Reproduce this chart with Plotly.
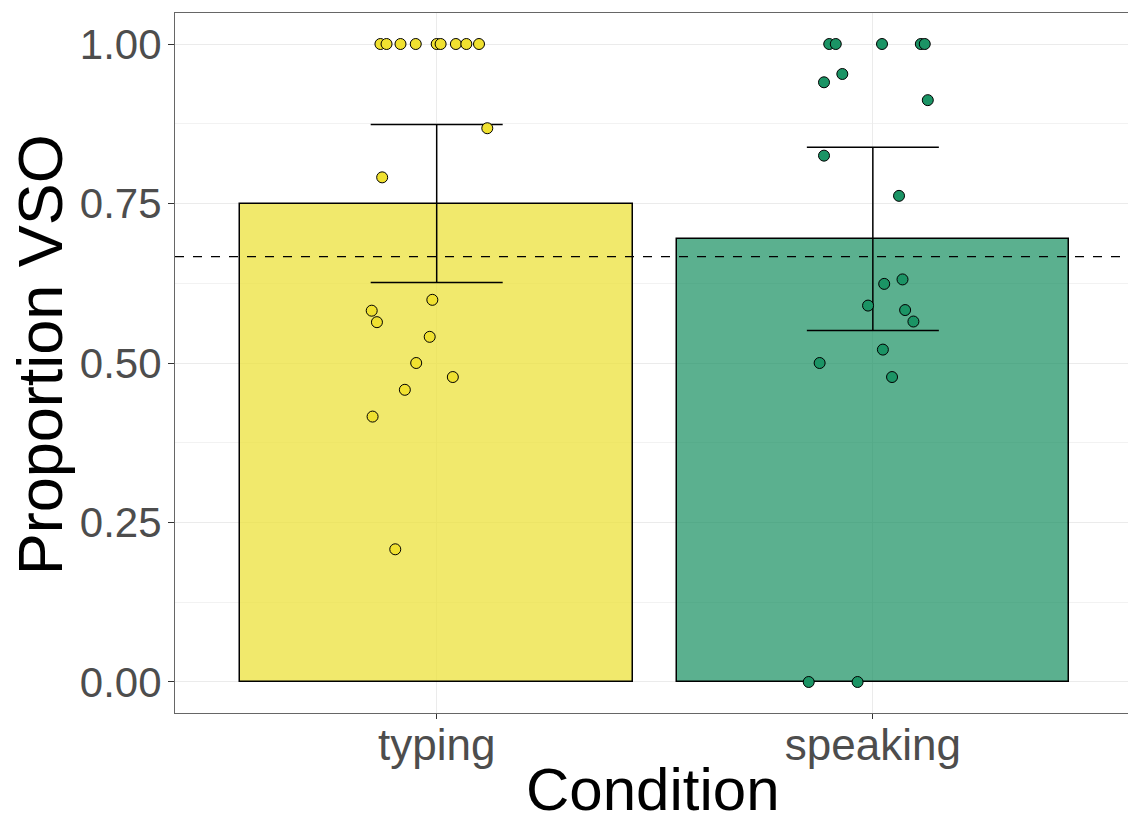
import plotly.graph_objects as go

categories = ["typing", "speaking"]
cat_pos = [1, 2]
means = [0.750, 0.694]
ci_low = [0.626, 0.551]
ci_high = [0.874, 0.838]
chance_level = 2 / 3

typing_vals = [1, 1, 1, 1, 1, 1, 1, 1, 1,
               0.868, 0.791, 0.599, 0.582, 0.564, 0.541, 0.500, 0.478, 0.458, 0.416, 0.208]
typing_jitter = [-0.129, -0.115, -0.083, -0.048, 0.0, 0.009, 0.044, 0.068, 0.097,
                 0.116, -0.125, -0.010, -0.149, -0.137, -0.016, -0.047, 0.037, -0.073, -0.147, -0.095]
speaking_vals = [1, 1, 1, 1, 1,
                 0.953, 0.940, 0.912, 0.825, 0.762,
                 0.624, 0.631, 0.590, 0.583, 0.565, 0.521, 0.500, 0.478, 0.0, 0.0]
speaking_jitter = [-0.100, -0.085, 0.021, 0.110, 0.119,
                   -0.070, -0.112, 0.126, -0.112, 0.060,
                   0.026, 0.068, -0.011, 0.074, 0.093, 0.023, -0.122, 0.044, -0.147, -0.035]

bar_fill = ["rgba(236,224,51,0.72)", "rgba(21,142,95,0.70)"]
point_fill = ["#F0E130", "#1B9465"]

fig = go.Figure()
fig.add_trace(go.Bar(
    x=cat_pos, y=means, width=0.9,
    marker=dict(color=bar_fill, line=dict(color="black", width=1.5)),
    error_y=dict(type="data", symmetric=False,
                 array=[h - m for h, m in zip(ci_high, means)],
                 arrayminus=[m - l for m, l in zip(means, ci_low)],
                 color="black", thickness=1.5, width=66),
    showlegend=False, hoverinfo="skip",
))
for pos, vals, jit, col in [(cat_pos[0], typing_vals, typing_jitter, point_fill[0]),
                            (cat_pos[1], speaking_vals, speaking_jitter, point_fill[1])]:
    fig.add_trace(go.Scatter(
        x=[pos + j for j in jit], y=vals, mode="markers",
        marker=dict(color=col, size=11, line=dict(color="black", width=1)),
        showlegend=False, cliponaxis=False,
    ))

fig.add_hline(y=chance_level, line=dict(color="black", width=1.3, dash="dash"), layer="above")

fig.update_layout(
    width=1128, height=819,
    margin=dict(l=175, r=0, t=13, b=106, autoexpand=False),
    plot_bgcolor="white", paper_bgcolor="white",
    font=dict(family="Liberation Sans, Arial, sans-serif", color="black"),
    bargap=0,
    annotations=[
        dict(text="Condition", xref="paper", yref="paper", x=0.502, y=-0.109,
             xanchor="center", yanchor="middle", showarrow=False,
             font=dict(size=60, color="black")),
        dict(text="Proportion VSO", xref="paper", yref="paper", x=-0.1416, y=0.511,
             xanchor="center", yanchor="middle", textangle=-90, showarrow=False,
             font=dict(size=63, color="black")),
    ],
)
fig.update_xaxes(
    automargin=False,
    range=[0.4, 2.585], tickvals=cat_pos, ticktext=categories,
    tickfont=dict(size=44, color="#4D4D4D"),
    ticks="outside", ticklen=5, tickcolor="#333333", tickwidth=1,
    ticklabelstandoff=-12,
    showgrid=True, gridcolor="#EBEBEB", gridwidth=1.2,
    showline=True, linecolor="#666666", linewidth=1, mirror=True,
    zeroline=False,
)
fig.update_yaxes(
    automargin=False,
    range=[-0.0486, 1.0486], tickvals=[0, 0.25, 0.5, 0.75, 1.0],
    ticktext=["0.00", "0.25", "0.50", "0.75", "1.00"],
    tickfont=dict(size=42, color="#4D4D4D"),
    ticks="outside", ticklen=6, tickcolor="#333333", tickwidth=1,
    ticklabelstandoff=-2,
    showgrid=True, gridcolor="#EBEBEB", gridwidth=1.2,
    minor=dict(tickvals=[0.125, 0.375, 0.625, 0.875], showgrid=True,
               gridcolor="#F2F2F2", gridwidth=1, ticks=""),
    showline=True, linecolor="#666666", linewidth=1, mirror=False,
    zeroline=False,
)

fig.write_html(
    "out.html",
    config={"displayModeBar": False},
    post_script="document.body.style.margin='0';document.body.style.overflow='hidden';",
)
